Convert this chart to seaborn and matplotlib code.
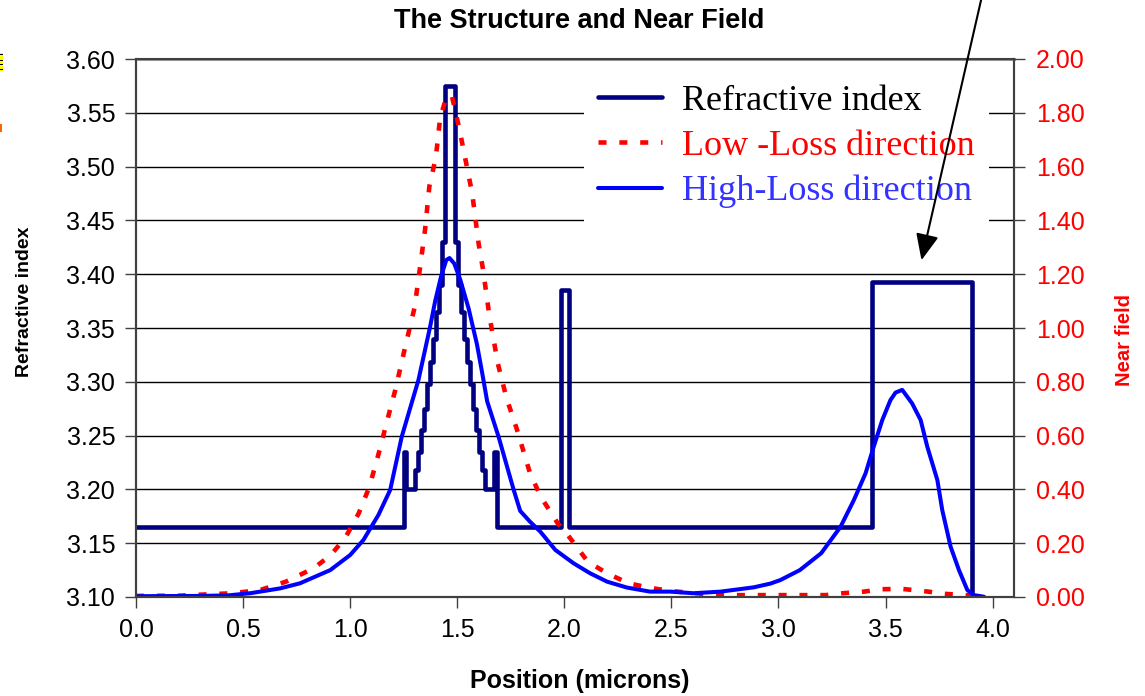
import numpy as np
import pandas as pd
import matplotlib
matplotlib.use("Agg")
import matplotlib.pyplot as plt
import seaborn as sns
from matplotlib.patches import Rectangle

# refractive index profile: value holds from each x up to the next x
idx_x = [0.0, 1.250, 1.262, 1.304, 1.318, 1.332, 1.346, 1.360, 1.374, 1.388, 1.402, 1.416, 1.430, 1.443,
         1.490, 1.504, 1.518, 1.532, 1.546, 1.560, 1.574, 1.588, 1.602, 1.616, 1.630, 1.672, 1.685,
         1.985, 2.020, 3.438, 3.905, 3.95]
idx_n = [3.165, 3.235, 3.200, 3.218, 3.235, 3.255, 3.275, 3.298, 3.318, 3.340, 3.365, 3.390, 3.430, 3.575,
         3.430, 3.390, 3.365, 3.340, 3.318, 3.298, 3.275, 3.255, 3.235, 3.218, 3.200, 3.235, 3.165,
         3.385, 3.165, 3.393, 3.100, 3.100]

# near field, low-loss direction
low_x = [0.00, 0.20, 0.45, 0.58, 0.70, 0.83, 0.91, 0.98, 1.04, 1.09, 1.14, 1.17, 1.21, 1.26, 1.30,
         1.32, 1.35, 1.37, 1.40, 1.42, 1.45, 1.475, 1.51, 1.57, 1.60, 1.62, 1.65, 1.69, 1.73, 1.78,
         1.84, 1.89, 1.97, 2.01, 2.11, 2.20, 2.30, 2.40, 2.50, 2.71, 2.92, 3.22, 3.30, 3.40, 3.48,
         3.58, 3.70, 3.77, 3.96]
low_f = [0.004, 0.005, 0.014, 0.026, 0.057, 0.107, 0.156, 0.224, 0.311, 0.41, 0.553, 0.647, 0.767, 0.94, 1.073,
         1.187, 1.367, 1.527, 1.633, 1.78, 1.86, 1.863, 1.74, 1.50, 1.313, 1.22, 1.047, 0.867, 0.74, 0.62,
         0.46, 0.373, 0.273, 0.237, 0.131, 0.088, 0.051, 0.034, 0.022, 0.007, 0.007, 0.007, 0.014, 0.020, 0.029,
         0.030, 0.020, 0.012, 0.003]

# near field, high-loss direction
high_x = [0.00, 0.30, 0.43, 0.533, 0.673, 0.766, 0.907, 1.00, 1.062, 1.132, 1.187, 1.241, 1.319, 1.374,
          1.397, 1.425, 1.449, 1.464, 1.486, 1.514, 1.553, 1.592, 1.615, 1.64, 1.693, 1.763, 1.794, 1.84,
          1.888, 1.958, 2.044, 2.121, 2.200, 2.293, 2.400, 2.495, 2.604, 2.730, 2.885, 2.963, 3.009, 3.100,
          3.200, 3.290, 3.352, 3.407, 3.445, 3.485, 3.523, 3.547, 3.578, 3.624, 3.664, 3.695, 3.742, 3.765,
          3.804, 3.843, 3.882, 3.913, 3.960]
high_f = [0.003, 0.004, 0.006, 0.014, 0.032, 0.051, 0.10, 0.156, 0.212, 0.305, 0.398, 0.596, 0.807, 1.007,
          1.10, 1.193, 1.253, 1.26, 1.24, 1.18, 1.073, 0.94, 0.84, 0.727, 0.596, 0.40, 0.32, 0.28,
          0.243, 0.175, 0.125, 0.088, 0.057, 0.035, 0.020, 0.020, 0.014, 0.020, 0.036, 0.050, 0.063, 0.100,
          0.163, 0.261, 0.360, 0.460, 0.559, 0.658, 0.732, 0.760, 0.770, 0.720, 0.658, 0.559, 0.435, 0.323,
          0.187, 0.100, 0.026, 0.007, 0.001]

labels = ['Refractive index', 'Low -Loss direction', 'High-Loss direction']

sns.set_theme(style="white")
plt.rcParams['font.family'] = ['Liberation Sans', 'DejaVu Sans']

W, H = 1145, 696
fig = plt.figure(figsize=(W / 100, H / 100), dpi=100)
ax = fig.add_axes([136 / W, 1 - 597 / H, (1014 - 136) / W, (597 - 59) / H])
ax2 = ax.twinx()

sns.lineplot(x=idx_x, y=idx_n, ax=ax, color='#000080', lw=3.3, drawstyle='steps-post',
             estimator=None, sort=False, legend=False)
sns.lineplot(x=low_x, y=low_f, ax=ax2, color='#FF0000', lw=3.3, linestyle=(0, (1.75, 2.8)),
             estimator=None, sort=False, legend=False)
sns.lineplot(x=high_x, y=high_f, ax=ax2, color='#0000FF', lw=2.9,
             estimator=None, sort=False, legend=False)
ax2.lines[0].set_dash_capstyle('butt')

ax.set_xlim(0, 4.1)
ax.set_ylim(3.10, 3.60)
ax2.set_ylim(0, 2.0)
ax.set_xticks(np.arange(0, 4.01, 0.5))
ax.set_xticklabels([f'{v:.1f}' for v in np.arange(0, 4.01, 0.5)])
ax.set_yticks(np.arange(3.10, 3.601, 0.05))
ax.set_yticklabels([f'{v:.2f}' for v in np.arange(3.10, 3.601, 0.05)])
ax2.set_yticks(np.arange(0, 2.01, 0.2))
ax2.set_yticklabels([f'{v:.2f}' for v in np.arange(0, 2.01, 0.2)])

ax.yaxis.grid(True, color='black', lw=1)
ax.xaxis.grid(False)
ax2.grid(False)
ax.set_axisbelow(True)

for a in (ax, ax2):
    for s in a.spines.values():
        s.set_color('#404040')
        s.set_linewidth(1.5)
ax.spines['top'].set_color('#909090')
ax.spines['top'].set_linewidth(2)

ax.tick_params(axis='both', which='major', direction='out', length=8, width=1, color='#404040',
               labelsize=18, pad=7, left=True, bottom=True, labelcolor='black')
ax2.tick_params(axis='y', direction='out', length=8, width=1, color='#404040',
                labelsize=18, pad=8, right=True, labelcolor='#FF0000')

ax.set_xlabel('')
ax.set_ylabel('')
ax2.set_ylabel('')
fig.text(579 / W, 1 - 21 / H, 'The Structure and Near Field', ha='center', va='center',
         fontsize=19.5, fontweight='bold', color='black')
fig.text(580 / W, 1 - 681 / H, 'Position (microns)', ha='center', va='center',
         fontsize=18, fontweight='bold', color='black')
fig.text(25 / W, 1 - 302 / H, 'Refractive index', ha='center', va='center', rotation=90,
         fontsize=14, fontweight='bold', color='black')
fig.text(1124 / W, 1 - 340 / H, 'Near field', ha='center', va='center', rotation=90,
         fontsize=14.5, fontweight='bold', color='#FF0000')

handles = [ax.lines[0], ax2.lines[0], ax2.lines[1]]
leg = ax2.legend(handles, labels, loc='upper left', bbox_to_anchor=(584 / W, 1 - 70 / H),
                 bbox_transform=fig.transFigure, frameon=True, fancybox=False, borderaxespad=0,
                 prop={'family': 'Liberation Serif', 'size': 26},
                 handlelength=1.77, handletextpad=0.55, labelspacing=0.33, borderpad=0.4)
leg.get_frame().set_facecolor('white')
leg.get_frame().set_edgecolor('none')
leg.get_frame().set_alpha(1)
for t, c in zip(leg.get_texts(), ['black', '#FF0000', '#3333FF']):
    t.set_color(c)

# annotation arrow pointing at the right-hand layer
ax2.annotate('', xy=(3.668, 3.413), xycoords=ax.transData,
             xytext=(982 / W, 1 + 4 / H), textcoords='figure fraction',
             arrowprops=dict(arrowstyle='-|>,head_length=0.8,head_width=0.35', color='black',
                             lw=1.5, mutation_scale=20, shrinkA=0, shrinkB=0),
             annotation_clip=False, zorder=10)

# leftover marks at the left edge
fig.add_artist(Rectangle((0, 1 - 71 / H), 3 / W, 18 / H, transform=fig.transFigure,
                         facecolor='#FFFF00', edgecolor='none'))
for yy in (54, 60, 64, 69):
    fig.add_artist(Rectangle((0, 1 - (yy + 1) / H), 3 / W, 1 / H, transform=fig.transFigure,
                             facecolor='black', edgecolor='none'))
fig.add_artist(Rectangle((0, 1 - 132 / H), 2 / W, 8 / H, transform=fig.transFigure,
                         facecolor='#FF6600', edgecolor='none'))

fig.savefig('out.png', dpi=100, facecolor='white')
